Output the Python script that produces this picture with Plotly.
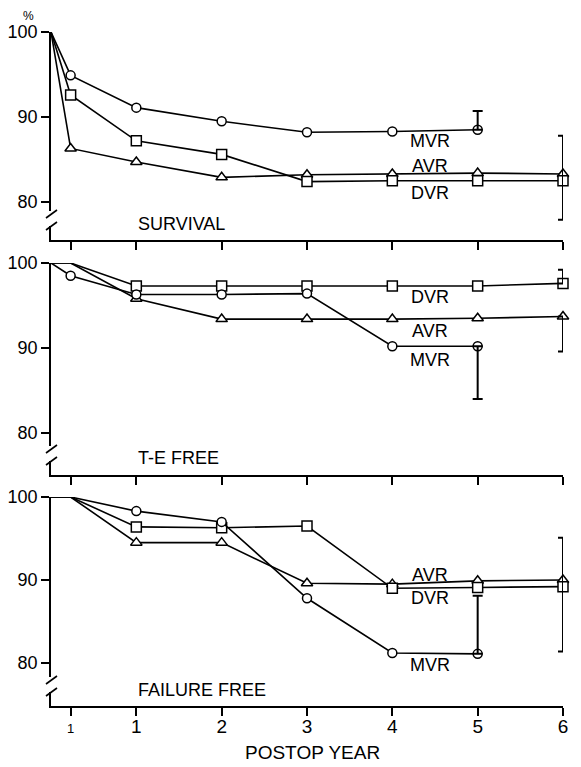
import plotly.graph_objects as go

# ---------------- data ----------------
years = [0, 0.23, 1, 2, 3, 4, 5, 6]
tick_vals = [0.23, 1, 2, 3, 4, 5, 6]
tick_text = ["<span style='font-size:13px'>1</span>", "1", "2", "3", "4", "5", "6"]
y_ticks = [80, 90, 100]

# Panel 1: survival
surv_mvr = [100, 94.9, 91.1, 89.5, 88.2, 88.3, 88.5, None]
surv_dvr = [100, 92.6, 87.2, 85.6, 82.4, 82.5, 82.5, 82.5]
surv_avr = [100, 86.3, 84.7, 82.9, 83.2, 83.3, 83.4, 83.3]
surv_show = [False, True, True, True, True, True, True, True]

# Panel 2: thromboembolism free
te_mvr = [100, 98.5, 96.3, 96.3, 96.4, 90.2, 90.2, None]
te_dvr = [100, 100, 97.3, 97.3, 97.3, 97.3, 97.3, 97.6]
te_avr = [100, 100, 95.8, 93.4, 93.4, 93.4, 93.5, 93.7]
te_show_mvr = [False, True, True, True, True, True, True, True]
te_show = [False, False, True, True, True, True, True, True]

# Panel 3: failure free
ff_mvr = [100, 100, 98.3, 97.0, 87.8, 81.2, 81.1, None]
ff_dvr = [100, 100, 96.4, 96.3, 96.5, 89.0, 89.1, 89.2]
ff_avr = [100, 100, 94.5, 94.5, 89.6, 89.5, 89.9, 90.0]
ff_show = [False, False, True, True, True, True, True, True]

# error bar limits (panel, series, index into years, upper, lower)
err_bars = [
    (1, "MVR", 6, 90.7, None),
    (1, "DVR", 7, 87.8, 77.9),
    (2, "MVR", 6, None, 84.0),
    (2, "DVR", 7, 99.2, None),
    (2, "AVR", 7, None, 89.6),
    (3, "MVR", 6, 88.1, None),
    (3, "DVR", 7, 95.1, 81.4),
]

panel_titles = ["SURVIVAL", "T-E FREE", "FAILURE FREE"]
label_pos = {
    1: {"MVR": 87.2, "AVR": 84.2, "DVR": 81.1},
    2: {"DVR": 96.0, "AVR": 92.0, "MVR": 88.6},
    3: {"AVR": 90.6, "DVR": 87.8, "MVR": 79.7},
}
title_y = {1: 77.4, 2: 77.1, 3: 76.7}

# ---------------- layout geometry ----------------
# page coordinates (the html body has an 8 px margin)
OFF = 8
W, H = 581 - OFF, 767 - OFF
L, R, T, B = 51 - OFF, 18, 32 - OFF, 61
PW, PH = W - L - R, H - T - B


def py2paper(py):
    return (H - B - (py - OFF)) / PH


def px2paper(px):
    return (px - OFF - L) / PW


panels = {
    1: dict(top=32, bottom=240, yrange=[100 - (240 - 32) / 8.5, 100]),
    2: dict(top=263, bottom=475, yrange=[100 - (475 - 263) / 8.5, 100]),
    3: dict(top=497, bottom=706, yrange=[100 - (706 - 497) / 8.3, 100]),
}

FONT = "Liberation Sans"
LW = 1.6
series = {
    1: {"MVR": (surv_mvr, surv_show), "DVR": (surv_dvr, surv_show), "AVR": (surv_avr, surv_show)},
    2: {"MVR": (te_mvr, te_show_mvr), "DVR": (te_dvr, te_show), "AVR": (te_avr, te_show)},
    3: {"MVR": (ff_mvr, ff_show), "DVR": (ff_dvr, ff_show), "AVR": (ff_avr, ff_show)},
}
symbols = {"MVR": "circle", "DVR": "square", "AVR": "triangle-up"}
sizes = {"MVR": 9, "DVR": 10, "AVR": 10}

fig = go.Figure()

for p in (1, 2, 3):
    xa = "x" if p == 1 else f"x{p}"
    ya = "y" if p == 1 else f"y{p}"
    for name in ("AVR", "DVR", "MVR"):
        vals, show = series[p][name]
        xs = [x for x, v in zip(years, vals) if v is not None]
        ys = [v for v in vals if v is not None]
        sz = [sizes[name] if s else 0 for s, v in zip(show, vals) if v is not None]
        fig.add_trace(go.Scatter(
            x=xs, y=ys, xaxis=xa, yaxis=ya, mode="lines+markers",
            line=dict(color="black", width=LW),
            marker=dict(symbol=symbols[name], size=sz, color="white", opacity=1,
                        line=dict(color="black", width=1.5)),
            cliponaxis=False, showlegend=False, name=name,
        ))
    for (pp, name, idx, up, lo) in err_bars:
        if pp != p:
            continue
        vals = series[p][name][0]
        yv = vals[idx]
        fig.add_trace(go.Scatter(
            x=[years[idx]], y=[yv], xaxis=xa, yaxis=ya, mode="markers",
            marker=dict(size=0.1, color="rgba(0,0,0,0)"),
            error_y=dict(type="data", symmetric=False,
                         array=[(up - yv) if up is not None else 0],
                         arrayminus=[(yv - lo) if lo is not None else 0],
                         color="black", thickness=2, width=5),
            cliponaxis=False, showlegend=False,
        ))
    # series labels
    for name, yv in label_pos[p].items():
        fig.add_annotation(x=4.44, y=yv, xref=xa, yref=ya, text=name, showarrow=False,
                           xanchor="center", yanchor="middle",
                           font=dict(family=FONT, size=18, color="black"))
    fig.add_annotation(x=1.0, y=title_y[p], xref=xa, yref=ya, text=panel_titles[p - 1],
                       showarrow=False, xanchor="left", yanchor="middle",
                       font=dict(family=FONT, size=18, color="black"))

axis_common = dict(showgrid=False, zeroline=False, showline=True, linecolor="black",
                   linewidth=LW, ticks="outside", tickcolor="black", tickwidth=LW,
                   ticklen=8, automargin=False)

layout = dict(
    width=W, height=H, margin=dict(l=L, r=R, t=T, b=B, autoexpand=False),
    paper_bgcolor="white", plot_bgcolor="white", showlegend=False,
    font=dict(family=FONT, color="black", size=18),
)
for p in (1, 2, 3):
    g = panels[p]
    dom = [py2paper(g["bottom"]), py2paper(g["top"])]
    xk = "xaxis" if p == 1 else f"xaxis{p}"
    yk = "yaxis" if p == 1 else f"yaxis{p}"
    ya = "y" if p == 1 else f"y{p}"
    xa = "x" if p == 1 else f"x{p}"
    layout[xk] = dict(axis_common, range=[0, 6], domain=[0, 1], anchor=ya,
                      tickmode="array", tickvals=tick_vals, ticktext=tick_text,
                      showticklabels=(p == 3), ticklabelstandoff=-6,
                      tickfont=dict(family=FONT, size=19, color="black"))
    layout[yk] = dict(axis_common, range=g["yrange"], domain=dom, anchor=xa,
                      tickmode="array", tickvals=y_ticks,
                      ticktext=[str(v) for v in y_ticks],
                      tickfont=dict(family=FONT, size=18, color="black"))
fig.update_layout(**layout)

# axis breaks
shapes = []
for p in (1, 2, 3):
    b = panels[p]["bottom"]
    shapes.append(dict(type="rect", xref="paper", yref="paper",
                       x0=px2paper(44), x1=px2paper(58),
                       y0=py2paper(b - 14), y1=py2paper(b - 29),
                       fillcolor="white", line=dict(width=0), layer="above"))
    for (y_lo, y_hi) in ((b - 22, b - 30), (b - 10, b - 18)):
        shapes.append(dict(type="line", xref="paper", yref="paper",
                           x0=px2paper(46), x1=px2paper(57),
                           y0=py2paper(y_lo), y1=py2paper(y_hi),
                           line=dict(color="black", width=LW), layer="above"))
fig.update_layout(shapes=shapes)

fig.add_annotation(x=px2paper(312), y=py2paper(752), xref="paper", yref="paper",
                   text="POSTOP YEAR", showarrow=False, xanchor="center", yanchor="middle",
                   font=dict(family=FONT, size=19, color="black"))
fig.add_annotation(x=px2paper(28), y=py2paper(8.5), xref="paper", yref="paper",
                   text="%", showarrow=False, xanchor="center", yanchor="top",
                   borderpad=0, font=dict(family=FONT, size=12, color="black"))

fig.write_html("out.html")
